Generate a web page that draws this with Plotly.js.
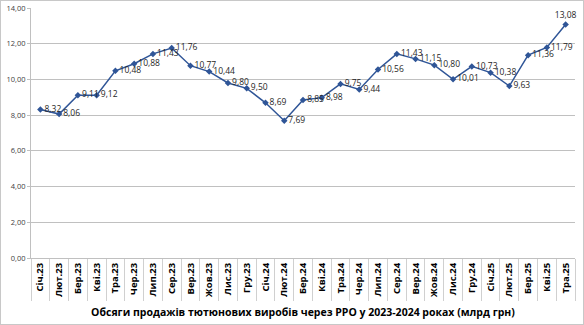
<!DOCTYPE html>
<html><head><meta charset="utf-8">
<script src="https://cdn.plot.ly/plotly-3.0.1.min.js"></script>
<style>
html,body{margin:0;padding:0;background:#fff;}
#wrap{position:relative;width:584px;height:325px;}
#chart{width:584px;height:325px;}
#frame{position:absolute;left:0;top:0;width:582px;height:323px;border:1px solid #C8C8C8;pointer-events:none;}
</style></head>
<body><div id="wrap"><div id="chart"></div><div id="frame"></div></div>
<script>
var categories = ["Січ.23","Лют.23","Бер.23","Кві.23","Тра.23","Чер.23","Лип.23","Сер.23","Вер.23","Жов.23","Лис.23","Гру.23",
"Січ.24","Лют.24","Бер.24","Кві.24","Тра.24","Чер.24","Лип.24","Сер.24","Вер.24","Жов.24","Лис.24","Гру.24",
"Січ.25","Лют.25","Бер.25","Кві.25","Тра.25"];
var values = [8.32,8.06,9.11,9.12,10.48,10.88,11.43,11.76,10.77,10.44,9.80,9.50,
8.69,7.69,8.85,8.98,9.75,9.44,10.56,11.43,11.15,10.80,10.01,10.73,
10.38,9.63,11.36,11.79,13.08];
var yTicks = [0,2,4,6,8,10,12,14];

var positions = categories.map(function (c, i) { return i === categories.length - 1 ? 'top center' : 'middle right'; });

var trace = {
  x: categories, y: values, type: 'scatter', mode: 'lines+markers+text',
  line: {color: '#2F5597', width: 1.5},
  marker: {symbol: 'diamond', size: 5, color: '#2F5597'},
  texttemplate: '%{y:.2f}', textposition: positions,
  textfont: {family: 'Open Sans, sans-serif', size: 8.5, color: '#262626'},
  cliponaxis: false, hoverinfo: 'none'
};
var layout = {
  width: 584, height: 325,
  margin: {l: 31, r: 9, t: 8, b: 67},
  separators: ',.',
  paper_bgcolor: '#fff', plot_bgcolor: '#fff',
  showlegend: false,
  xaxis: {
    type: 'category', range: [-0.5, categories.length - 0.5], autorange: false,
    tickson: 'boundaries', ticks: 'outside', ticklen: 42, tickcolor: '#D0D0D0', tickwidth: 1,
    tickangle: -90, tickfont: {family: 'Open Sans, sans-serif', size: 9.5, color: '#000', weight: 'bold'},
    showline: true, linecolor: '#C0C0C0', linewidth: 1, showgrid: false, automargin: false,
    title: {text: 'Обсяги продажів тютюнових виробів через РРО у 2023-2024 роках (млрд грн)', standoff: 12,
      font: {family: 'Open Sans, sans-serif', size: 10.5, color: '#000', weight: 'bold'}}
  },
  yaxis: {
    range: [0, 14], autorange: false, tickvals: yTicks, tickformat: '.2f', ticks: 'outside', ticklen: 3, tickcolor: '#C0C0C0',
    tickfont: {family: 'Open Sans, sans-serif', size: 7.5, color: '#404040'},
    showline: true, linecolor: '#C0C0C0', linewidth: 1,
    showgrid: true, gridcolor: '#C0C0C0', gridwidth: 1, zeroline: false, automargin: false
  }
};
Plotly.newPlot('chart', [trace], layout, {displayModeBar: false, staticPlot: true});
</script></body></html>
